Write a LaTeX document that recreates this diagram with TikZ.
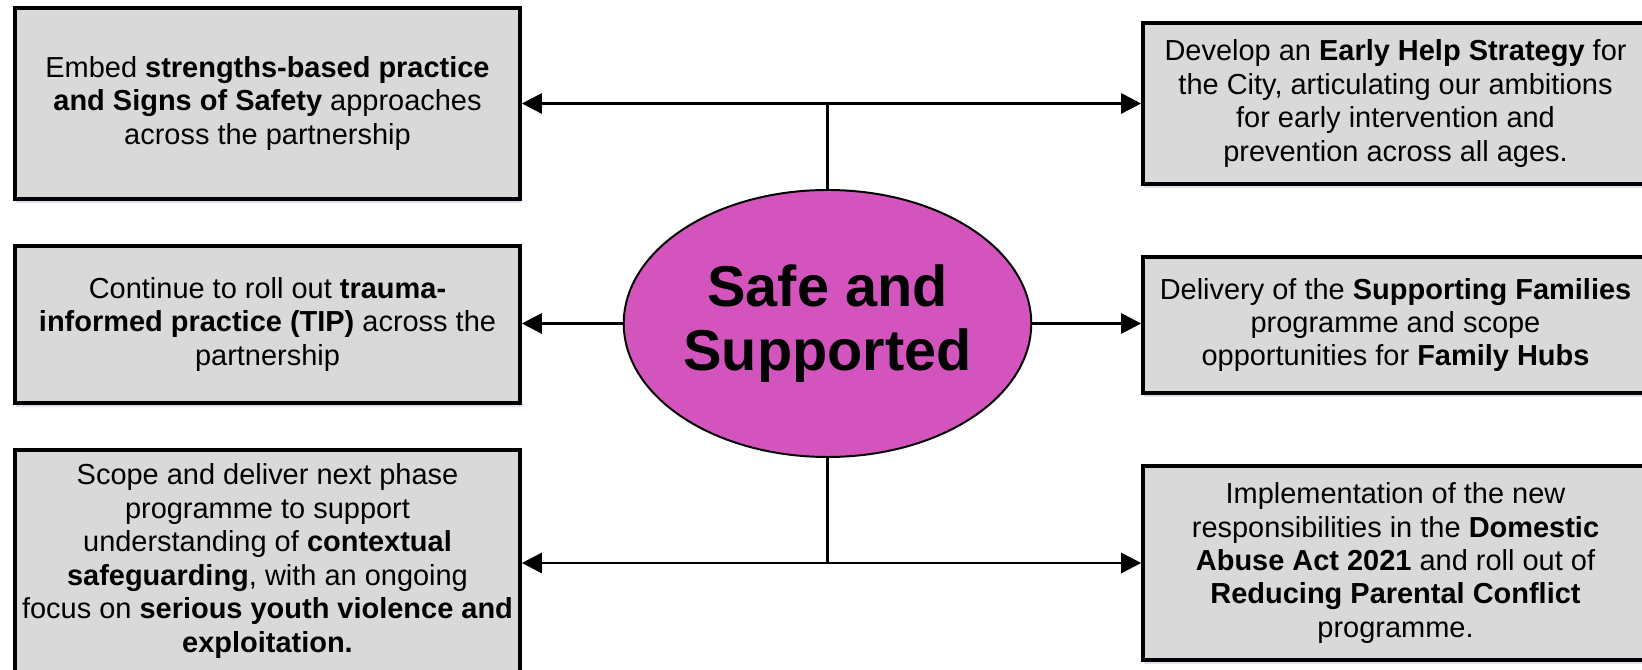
\documentclass[tikz,border=0pt]{standalone}
\usepackage{xcolor}
\usepackage{fontspec}
\setmainfont{Liberation Sans}
\usepackage{tikz}
\usetikzlibrary{calc, positioning, arrows.meta, shapes.geometric, shadows}

\definecolor{boxgray}{RGB}{217,217,217}
\definecolor{coremagenta}{RGB}{212,84,190}

\begin{document}
\begin{tikzpicture}[
    every node/.style={font=\fontsize{20.6}{23.8}\selectfont, inner sep=2pt},
    aimbox/.style={draw=black, line width=2.6pt, fill=boxgray, align=center,
        minimum width=12.625cm,
        drop shadow={fill=blue!40!gray, opacity=0.18, shadow xshift=0.5pt, shadow yshift=-2.5pt}},
    link/.style={line width=2pt},
    arr/.style={line width=2pt, -{Triangle[length=0.5cm, width=0.5cm]}}
]

    \useasboundingbox (0, 0) rectangle (41.05, 16.75);

    % 1. 左侧目标框
    \node[aimbox, minimum height=4.775cm] (tl) at (6.6875, 14.1625) {
        Embed \textbf{strengths-based practice}\\
        \textbf{and Signs of Safety} approaches\\
        across the partnership};
    \node[aimbox, minimum height=3.925cm] (ml) at (6.6875, 8.6375) {
        Continue to roll out \textbf{trauma-}\\
        \textbf{informed practice (TIP)} across the\\
        partnership};
    \node[aimbox, minimum height=5.55cm] (bl) at (6.6875, 2.725) {
        Scope and deliver next phase\\
        programme to support\\
        understanding of \textbf{contextual}\\
        \textbf{safeguarding}, with an ongoing\\
        focus on \textbf{serious youth violence and}\\
        \textbf{exploitation.}};

    % 2. 右侧目标框
    \node[aimbox, minimum height=4.025cm] (tr) at (34.8875, 14.1625) {
        Develop an \textbf{Early Help Strategy} for\\
        the City, articulating our ambitions\\
        for early intervention and\\
        prevention across all ages.};
    \node[aimbox, minimum height=3.4cm] (mr) at (34.8875, 8.625) {
        Delivery of the \textbf{Supporting Families}\\
        programme and scope\\
        opportunities for \textbf{Family Hubs}};
    \node[aimbox, minimum height=4.85cm] (br) at (34.8875, 2.675) {
        Implementation of the new\\
        responsibilities in the \textbf{Domestic}\\
        \textbf{Abuse Act 2021} and roll out of\\
        \textbf{Reducing Parental Conflict}\\
        programme.};

    % 3. 中心椭圆
    \node[ellipse, draw=black, line width=1.4pt, fill=coremagenta, align=center,
        minimum width=9.925cm, minimum height=6.675cm, inner sep=0pt,
        font=\fontsize{41}{46}\selectfont\bfseries] (core) at (20.6875, 8.6625)
        {Safe and\\Supported};

    % 4. 连接线
    \coordinate (hubtop) at (core.north |- tl.east);
    \coordinate (hubbot) at (core.south |- br.west);
    \draw[link] (core.north) -- (hubtop);
    \draw[arr] (hubtop) -- (hubtop -| tl.east);
    \draw[arr] (hubtop) -- (hubtop -| tr.west);

    \draw[arr] (core.west) -- (core.west -| ml.east);
    \draw[arr] (core.east) -- (core.east -| mr.west);

    \draw[link] (core.south) -- (hubbot);
    \draw[arr] (hubbot) -- (hubbot -| bl.east);
    \draw[arr] (hubbot) -- (hubbot -| br.west);

\end{tikzpicture}
\end{document}
